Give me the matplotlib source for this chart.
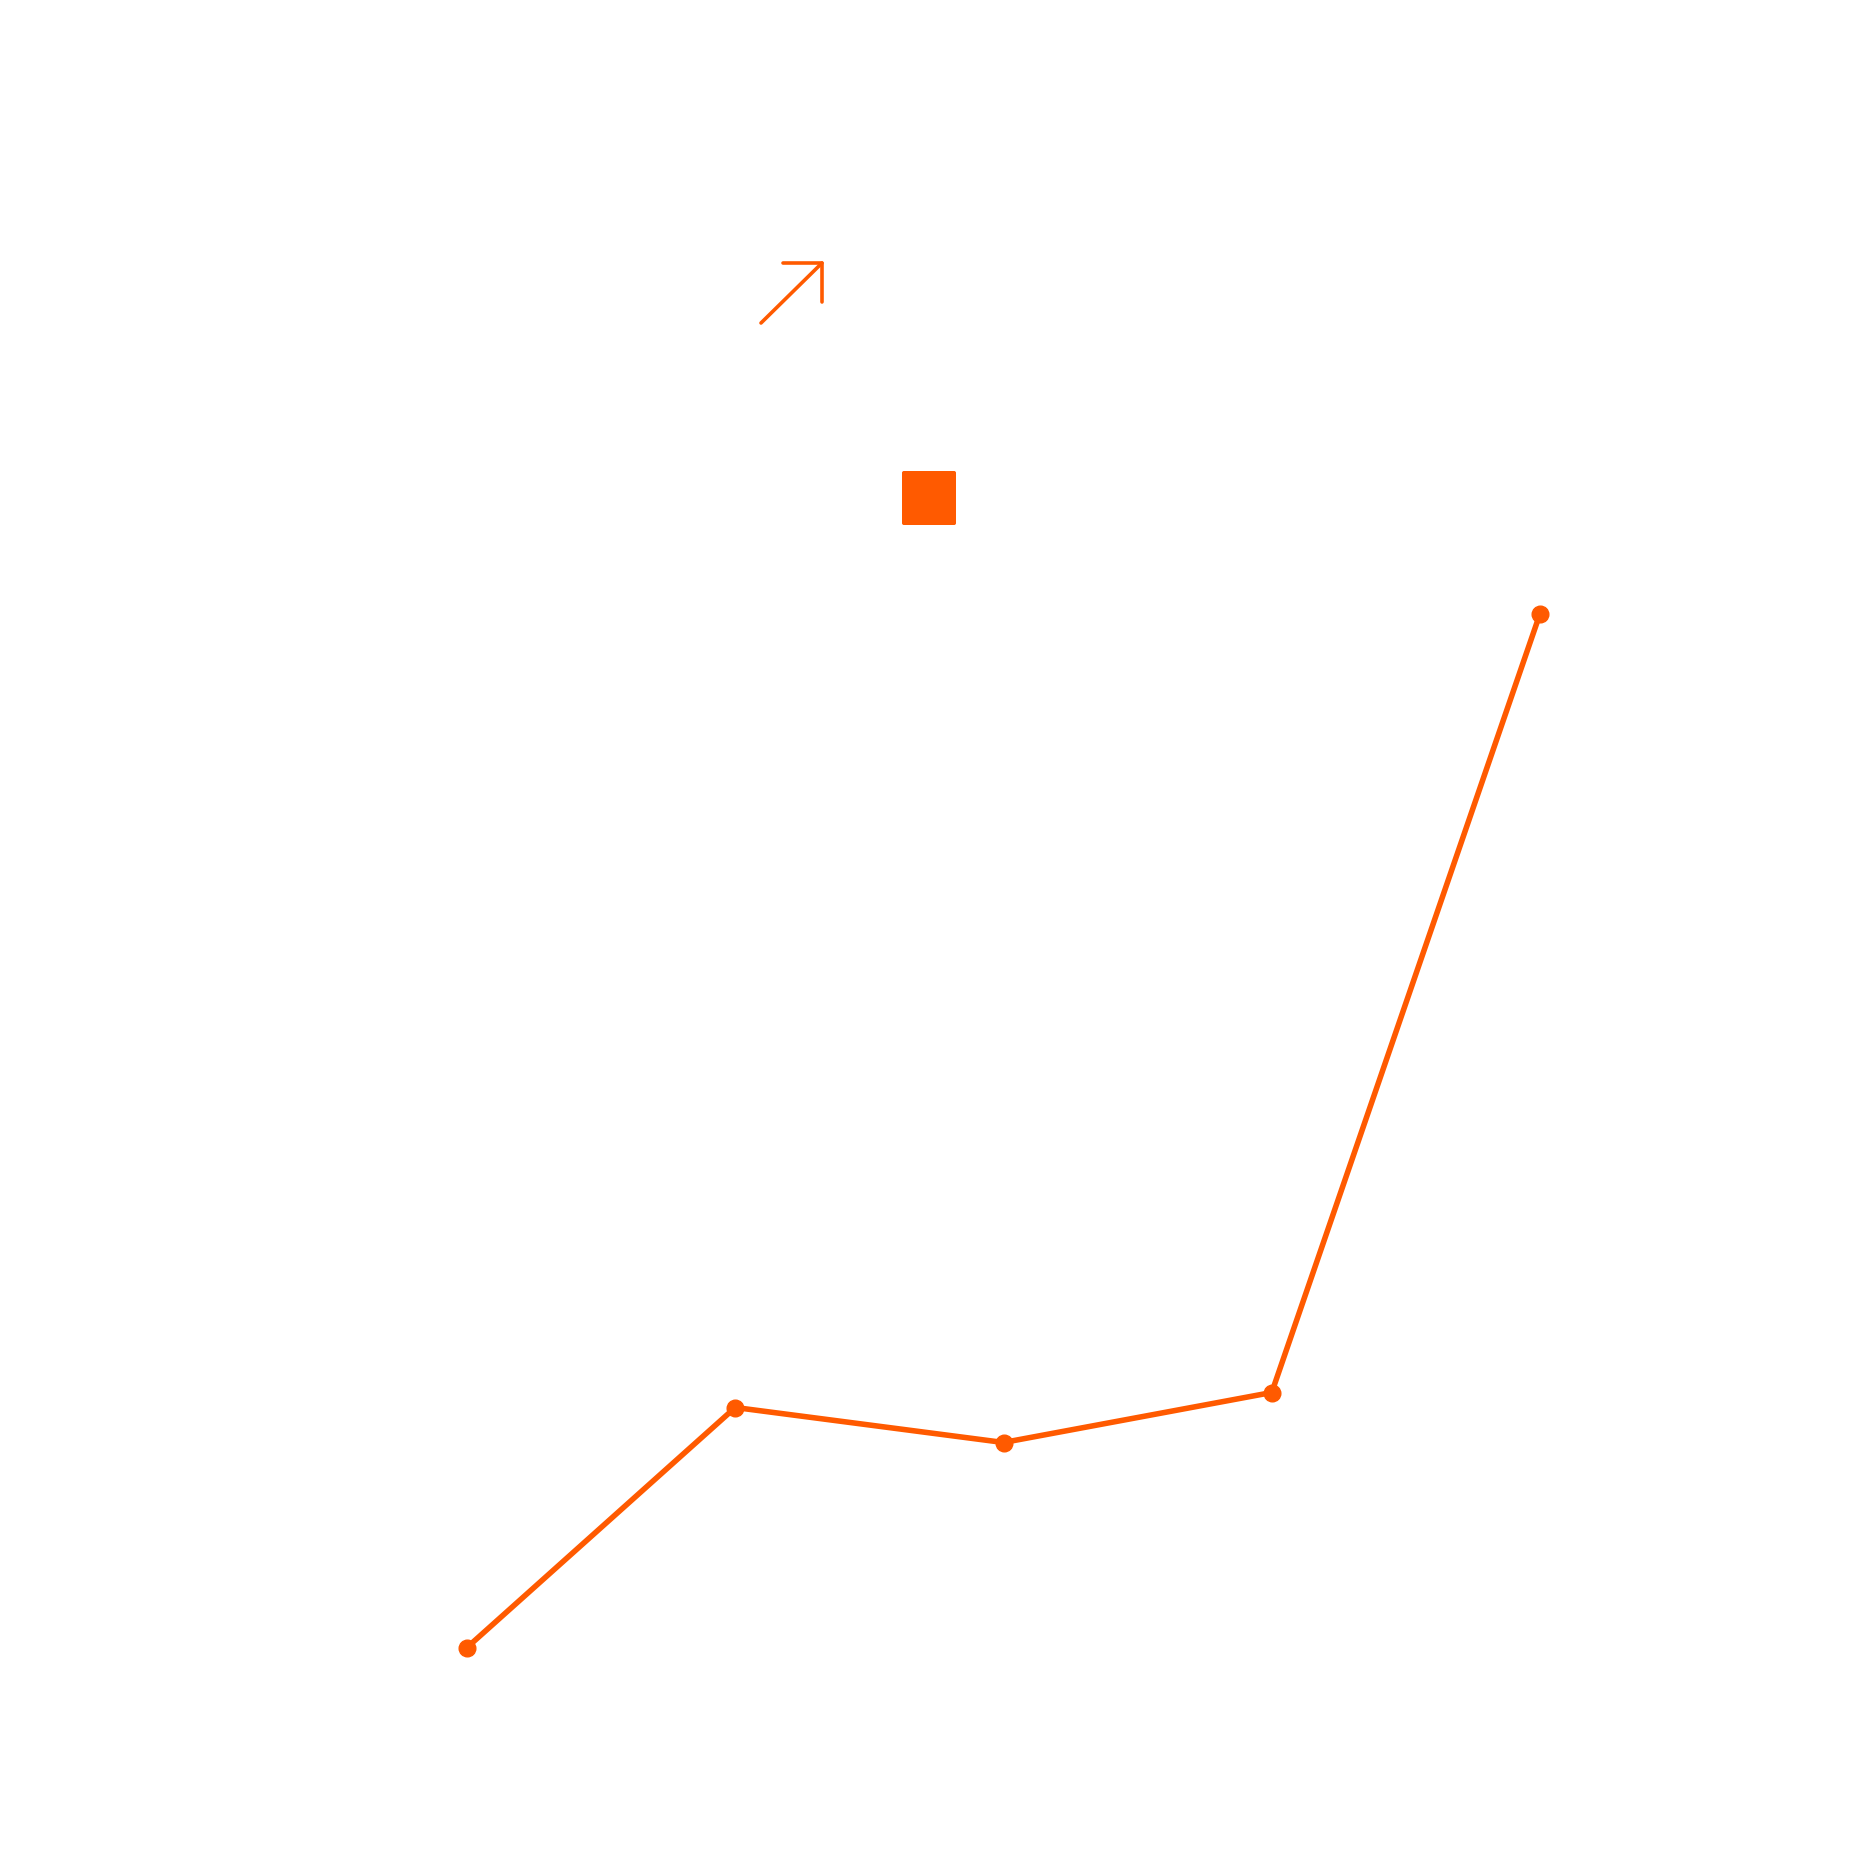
import matplotlib
matplotlib.use("Agg")
import matplotlib.pyplot as plt
from matplotlib.lines import Line2D
from matplotlib.patches import FancyBboxPatch

# Data
periods = [0, 1, 2, 3, 4]
values = [12.2, 31.4, 28.6, 32.6, 94.9]

COLOR = "#FF5A00"
W = H = 1860
DPI = 100

fig = plt.figure(figsize=(W / DPI, H / DPI), dpi=DPI)
fig.patch.set_facecolor("white")

ax = fig.add_axes([0, 0, 1, 1])
ax.set_xlim(-467 / 268.25, (W - 467) / 268.25)
ax.set_ylim(-60 / 12.5, (H - 60) / 12.5)
ax.axis("off")

ax.plot(periods, values, color=COLOR, lw=4.0, marker="o", markersize=12,
        solid_capstyle="round", solid_joinstyle="round")

# Trend icon (arrow up-right)
def fx(px):
    return px / W

def fy(py):
    return 1 - py / H

arrow_kw = dict(color=COLOR, lw=2.6, solid_capstyle="round", solid_joinstyle="round",
                transform=fig.transFigure)
fig.add_artist(Line2D([fx(761), fx(822)], [fy(323), fy(263)], **arrow_kw))
fig.add_artist(Line2D([fx(783), fx(822), fx(822)], [fy(263), fy(263), fy(302)], **arrow_kw))

# Square swatch
sq = FancyBboxPatch((fx(902), fy(525)), fx(54), 54 / H,
                    boxstyle="round,pad=0,rounding_size=0.001",
                    transform=fig.transFigure, facecolor=COLOR, edgecolor="none")
fig.add_artist(sq)

fig.savefig("out.png", dpi=DPI, facecolor="white")
